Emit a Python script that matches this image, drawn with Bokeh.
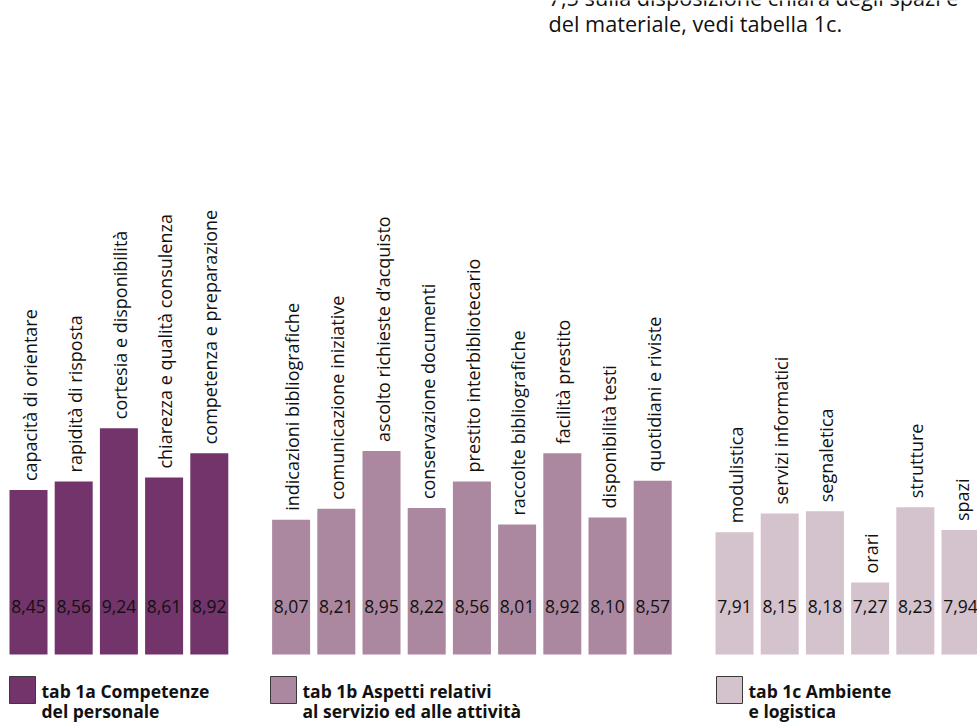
import math
from bokeh.plotting import figure
from bokeh.models import Range1d, ColumnDataSource
from bokeh.core.properties import value
from bokeh.embed import file_html
from bokeh.resources import INLINE

# ---- data ----
labels_a = ["capacità di orientare", "rapidità di risposta", "cortesia e disponibilità",
            "chiarezza e qualità consulenza", "competenza e preparazione"]
values_a = [8.45, 8.56, 9.24, 8.61, 8.92]

labels_b = ["indicazioni bibliografiche", "comunicazione iniziative", "ascolto richieste d\u2019acquisto",
            "conservazione documenti", "prestito interbibliotecario", "raccolte bibliografiche",
            "facilità prestito", "disponibilità testi", "quotidiani e riviste"]
values_b = [8.07, 8.21, 8.95, 8.22, 8.56, 8.01, 8.92, 8.10, 8.57]

labels_c = ["modulistica", "servizi informatici", "segnaletica", "orari", "strutture", "spazi"]
values_c = [7.91, 8.15, 8.18, 7.27, 8.23, 7.94]

legend_lines = [["tab 1a Competenze", "del personale"],
                ["tab 1b Aspetti relativi", "al servizio ed alle attività"],
                ["tab 1c Ambiente", "e logistica"]]
colors = ["#72346a", "#ab889f", "#d4c2cc"]

top_lines = ["7,5 sulla disposizione chiara degli spazi e", "del materiale, vedi tabella 1c."]

# ---- layout constants ----
W, H = 977, 724
K = 78.3          # pixels per unit
Y0 = 6.35         # value at bar baseline
BASE_PX = 654     # baseline pixel row
TXT_SHIFT = 7     # correction for alphabetic baseline placement


def py(pix):
    return Y0 + (BASE_PX - pix) / K


FONT = "Open Sans"
p = figure(width=W, height=H, output_backend="svg", toolbar_location=None,
           x_range=Range1d(0, W), y_range=Range1d(py(H), py(0)),
           x_axis_location=None, y_axis_location=None, min_border=0)
p.grid.visible = False
p.outline_line_color = None
p.background_fill_color = "white"

groups = [(labels_a, values_a), (labels_b, values_b), (labels_c, values_c)]
pitch = 45.2
k = 0
for g, (labs, vals) in enumerate(groups):
    xs = []
    for i in range(len(vals)):
        xs.append(28 + pitch * (k + 0.81 * g))
        k += 1
    src = ColumnDataSource(dict(x=xs, top=vals, lab=labs,
                                vlab=[f"{v:.2f}".replace(".", ",") for v in vals],
                                ly=[v + 9 / K for v in vals],
                                lx=[x + 1 for x in xs],
                                vy=[py(606)] * len(vals)))
    p.vbar(x="x", top="top", bottom=Y0, width=38, source=src,
           fill_color=colors[g], line_color=None)
    p.text(x="lx", y="ly", text="lab", source=src, angle=math.pi / 2,
           text_align="left", text_baseline="middle",
           text_font=value(FONT), text_font_size="18px", text_color="#111111")
    p.text(x="x", y="vy", text="vlab", source=src,
           text_align="center", text_baseline="middle",
           text_font=value(FONT), text_font_size="17.5px", text_color="#111111")

# legend
leg_x = [9, 270, 716]
for g in range(3):
    x0 = leg_x[g]
    p.quad(left=x0, right=x0 + 26, top=py(676), bottom=py(703),
           fill_color=colors[g], line_color="#3a3a3a", line_width=1)
    p.text(x=[x0 + 32, x0 + 32], y=[py(697 - TXT_SHIFT), py(717 - TXT_SHIFT)], text=legend_lines[g],
           text_align="left", text_baseline="alphabetic",
           text_font=value(FONT), text_font_size="17.5px", text_font_style="bold",
           text_color="#111111")

# top text (partly cut)
p.text(x=[548, 548], y=[py(4 - TXT_SHIFT), py(30 - TXT_SHIFT)], text=top_lines,
       text_align="left", text_baseline="alphabetic",
       text_font=value(FONT), text_font_size="21.7px", text_color="#111111")

open("out.html", "w").write(file_html(p, INLINE))
